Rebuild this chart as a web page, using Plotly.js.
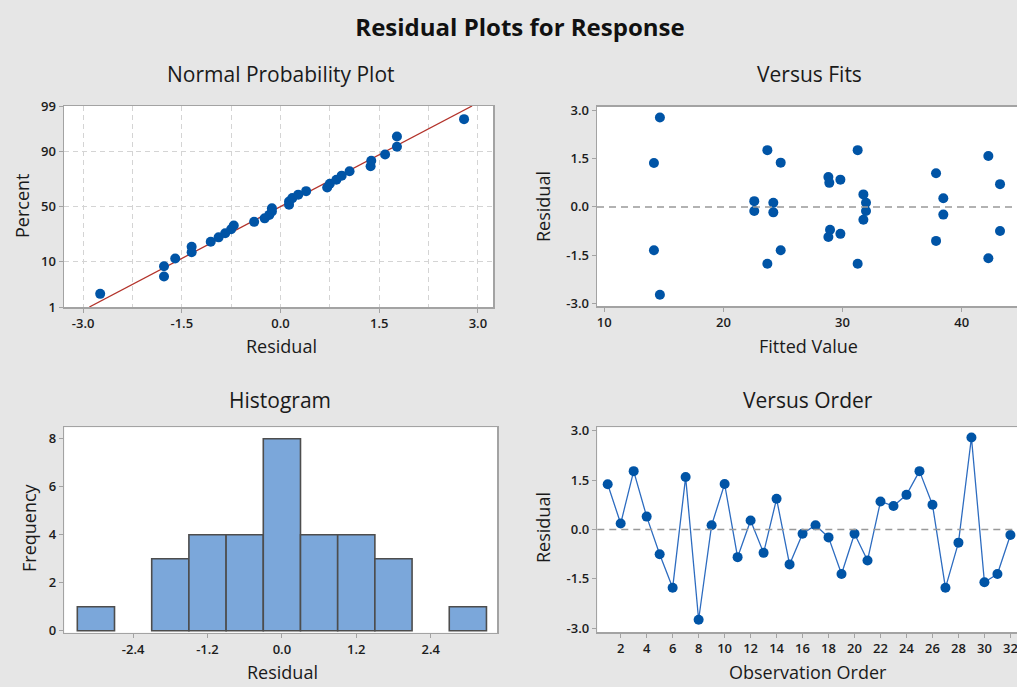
<!DOCTYPE html>
<html>
<head>
<meta charset="utf-8">
<script src="https://cdn.plot.ly/plotly-3.0.1.min.js"></script>
<style>
  html, body { margin: 0; padding: 0; overflow: hidden; background: #e6e6e6; }
  #chart { width: 1040px; height: 687px; }
</style>
</head>
<body>
<div id="chart"></div>
<script>
// ---- data ----
const observation = [1,2,3,4,5,6,7,8,9,10,11,12,13,14,15,16,17,18,19,20,21,22,23,24,25,26,27,28,29,30,31,32];
const residuals = [1.37,0.18,1.77,0.39,-0.75,-1.77,1.59,-2.74,0.13,1.38,-0.84,0.27,-0.71,0.93,-1.06,-0.13,
                   0.13,-0.24,-1.35,-0.13,-0.94,0.85,0.71,1.05,1.77,0.75,-1.77,-0.40,2.79,-1.60,-1.35,-0.17];
const fittedValues = [14.17,22.59,23.69,31.75,43.22,31.27,42.24,14.67,31.97,24.81,29.82,38.46,28.95,28.81,37.85,22.59,
                      24.19,38.46,24.81,31.97,28.81,29.82,43.22,37.85,31.27,28.89,23.69,31.75,14.67,42.24,14.17,24.19];

const percentTicks = [1, 10, 50, 90, 99];
const percentLabels = ['1', '10', '50', '90', '99'];
const probResidTicks = [-3, -1.5, 0, 1.5, 3];
const probResidLabels = ['-3.0', '-1.5', '0.0', '1.5', '3.0'];
const residTicks = [-3, -1.5, 0, 1.5, 3];
const residLabels = ['-3.0', '-1.5', '0.0', '1.5', '3.0'];
const fitTicks = [10, 20, 30, 40];
const histTicks = [-2.4, -1.2, 0, 1.2, 2.4];
const histLabels = ['-2.4', '-1.2', '0.0', '1.2', '2.4'];
const freqTicks = [0, 2, 4, 6, 8];
const orderTicks = [2,4,6,8,10,12,14,16,18,20,22,24,26,28,30,32];

// ---- helpers ----
function qnorm(p) {
  const a=[-3.969683028665376e+01,2.209460984245205e+02,-2.759285104469687e+02,1.383577518672690e+02,-3.066479806614716e+01,2.506628277459239e+00];
  const b=[-5.447609879822406e+01,1.615858368580409e+02,-1.556989798598866e+02,6.680131188771972e+01,-1.328068155288572e+01];
  const c=[-7.784894002430293e-03,-3.223964580411365e-01,-2.400758277161838e+00,-2.549732539343734e+00,4.374664141464968e+00,2.938163982698783e+00];
  const d=[7.784695709041462e-03,3.224671290700398e-01,2.445134137142996e+00,3.754408661907416e+00];
  const pl = 0.02425; let q, r;
  if (p < pl) { q = Math.sqrt(-2*Math.log(p)); return (((((c[0]*q+c[1])*q+c[2])*q+c[3])*q+c[4])*q+c[5])/((((d[0]*q+d[1])*q+d[2])*q+d[3])*q+1); }
  if (p > 1-pl) { q = Math.sqrt(-2*Math.log(1-p)); return -(((((c[0]*q+c[1])*q+c[2])*q+c[3])*q+c[4])*q+c[5])/((((d[0]*q+d[1])*q+d[2])*q+d[3])*q+1); }
  q = p - 0.5; r = q*q;
  return (((((a[0]*r+a[1])*r+a[2])*r+a[3])*r+a[4])*r+a[5])*q/(((((b[0]*r+b[1])*r+b[2])*r+b[3])*r+b[4])*r+1);
}

const n = residuals.length;
const sorted = residuals.slice().sort((u, v) => u - v);
const probZ = sorted.map((_, i) => qnorm((i + 1 - 0.3) / (n + 0.4)));
const mean = residuals.reduce((s, v) => s + v, 0) / n;
const sd = Math.sqrt(residuals.reduce((s, v) => s + (v - mean) * (v - mean), 0) / (n - 1));
const zLo = qnorm(0.01), zHi = qnorm(0.99);
const lineZ = [zLo, zHi];
const lineX = lineZ.map(z => mean + sd * z);

// ---- style ----
const W = 1040, H = 687;
const FONT = '"Open Sans", "Noto Sans", sans-serif';
const BLUE = '#0054a6';
const FRAME = '#a3a3a3';
const px = v => v / W;
const py = v => 1 - v / H;

function baseAxis(extra) {
  return Object.assign({
    showline: true, linecolor: FRAME, linewidth: 1.5, mirror: true,
    ticks: 'outside', ticklen: 4, tickwidth: 1, tickcolor: FRAME,
    tickfont: { family: FONT, size: 13, color: '#1c1c1c', weight: 600 },
    showgrid: false, zeroline: false, fixedrange: true
  }, extra);
}

const traces = [
  { type: 'scatter', mode: 'lines', x: lineX, y: lineZ, xaxis: 'x', yaxis: 'y',
    line: { color: '#b3332b', width: 1.3 }, hoverinfo: 'skip' },
  { type: 'scatter', mode: 'markers', x: sorted, y: probZ, xaxis: 'x', yaxis: 'y',
    marker: { color: BLUE, size: 10 } },
  { type: 'scatter', mode: 'markers', x: fittedValues, y: residuals, xaxis: 'x2', yaxis: 'y2',
    marker: { color: BLUE, size: 10 } },
  { type: 'histogram', x: residuals, xaxis: 'x3', yaxis: 'y3',
    xbins: { start: -3.3, end: 3.3, size: 0.6 },
    marker: { color: '#7ba7da', line: { color: '#4d4d4d', width: 1.6 } } },
  { type: 'scatter', mode: 'lines+markers', x: observation, y: residuals, xaxis: 'x4', yaxis: 'y4',
    line: { color: '#2d6cc0', width: 1.3 }, marker: { color: BLUE, size: 10 } }
];

const gridStyle = { showgrid: true, gridcolor: '#d4d4d4', gridwidth: 1, griddash: '5px,4px' };

const layout = {
  width: W, height: H,
  margin: { l: 0, r: 0, t: 0, b: 0 },
  paper_bgcolor: '#e6e6e6', plot_bgcolor: '#ffffff',
  showlegend: false,
  font: { family: FONT, color: '#1a1a1a' },
  title: { text: '<b>Residual Plots for Response</b>', x: 0.5, xanchor: 'center', y: py(28), yanchor: 'middle',
           font: { family: FONT, size: 24, color: '#111' } },
  bargap: 0,
  // normal probability plot
  xaxis: baseAxis({ domain: [px(64), px(493)], anchor: 'y', range: [-3.29, 3.23],
    tickvals: probResidTicks, ticktext: probResidLabels, showgrid: true, gridcolor: '#d4d4d4', griddash: '5px,4px',
    minor: { dtick: 0.75, tick0: 0, showgrid: true, gridcolor: '#d4d4d4', griddash: '5px,4px', ticks: '' } }),
  yaxis: baseAxis(Object.assign({ domain: [py(307), py(106)], anchor: 'x', range: [zLo, zHi],
    tickvals: percentTicks.map(p => qnorm(p / 100)), ticktext: percentLabels }, gridStyle)),
  // versus fits
  xaxis2: baseAxis({ domain: [px(597), px(1026)], anchor: 'y2', range: [9.39, 45.4],
    tickvals: fitTicks, ticktext: fitTicks.map(String) }),
  yaxis2: baseAxis({ domain: [py(306), py(106.7)], anchor: 'x2', range: [-3.09, 3.125],
    tickvals: residTicks, ticktext: residLabels }),
  // histogram
  xaxis3: baseAxis({ domain: [px(64.3), px(497)], anchor: 'y3', range: [-3.51, 3.47],
    tickvals: histTicks, ticktext: histLabels }),
  yaxis3: baseAxis({ domain: [py(632.7), py(427.3)], anchor: 'x3', range: [-0.08, 8.48],
    tickvals: freqTicks, ticktext: freqTicks.map(String) }),
  // versus order
  xaxis4: baseAxis({ domain: [px(597.3), px(1026)], anchor: 'y4', range: [0.2, 33.2],
    tickvals: orderTicks, ticktext: orderTicks.map(String) }),
  yaxis4: baseAxis({ domain: [py(632.3), py(427.3)], anchor: 'x4', range: [-3.12, 3.10],
    tickvals: residTicks, ticktext: residLabels }),
  shapes: [
    { type: 'line', xref: 'x2 domain', yref: 'y2', x0: 0, x1: 1, y0: 0, y1: 0,
      line: { color: '#999999', width: 1.5, dash: '7px,5px' } },
    { type: 'line', xref: 'x4 domain', yref: 'y4', x0: 0, x1: 1, y0: 0, y1: 0,
      line: { color: '#999999', width: 1.5, dash: '7px,5px' } }
  ],
  annotations: []
};

function label(text, x, y, size, angle) {
  layout.annotations.push({ text: text, xref: 'paper', yref: 'paper', x: px(x), y: py(y),
    xanchor: 'center', yanchor: 'middle', showarrow: false, textangle: angle || 0,
    font: { family: FONT, size: size, color: '#1a1a1a' } });
}
label('Normal Probability Plot', 281, 74, 21);
label('Versus Fits', 809, 74, 21);
label('Histogram', 280, 400, 21);
label('Versus Order', 808, 400, 21);
label('Residual', 281, 346, 18);
label('Fitted Value', 808, 346, 18);
label('Residual', 282, 672, 18);
label('Observation Order', 808, 672, 18);
label('Percent', 22, 206, 18, -90);
label('Residual', 543, 207, 18, -90);
label('Frequency', 29, 528, 18, -90);
label('Residual', 543, 528, 18, -90);

Plotly.newPlot('chart', traces, layout, { staticPlot: true, displayModeBar: false });
</script>
</body>
</html>
